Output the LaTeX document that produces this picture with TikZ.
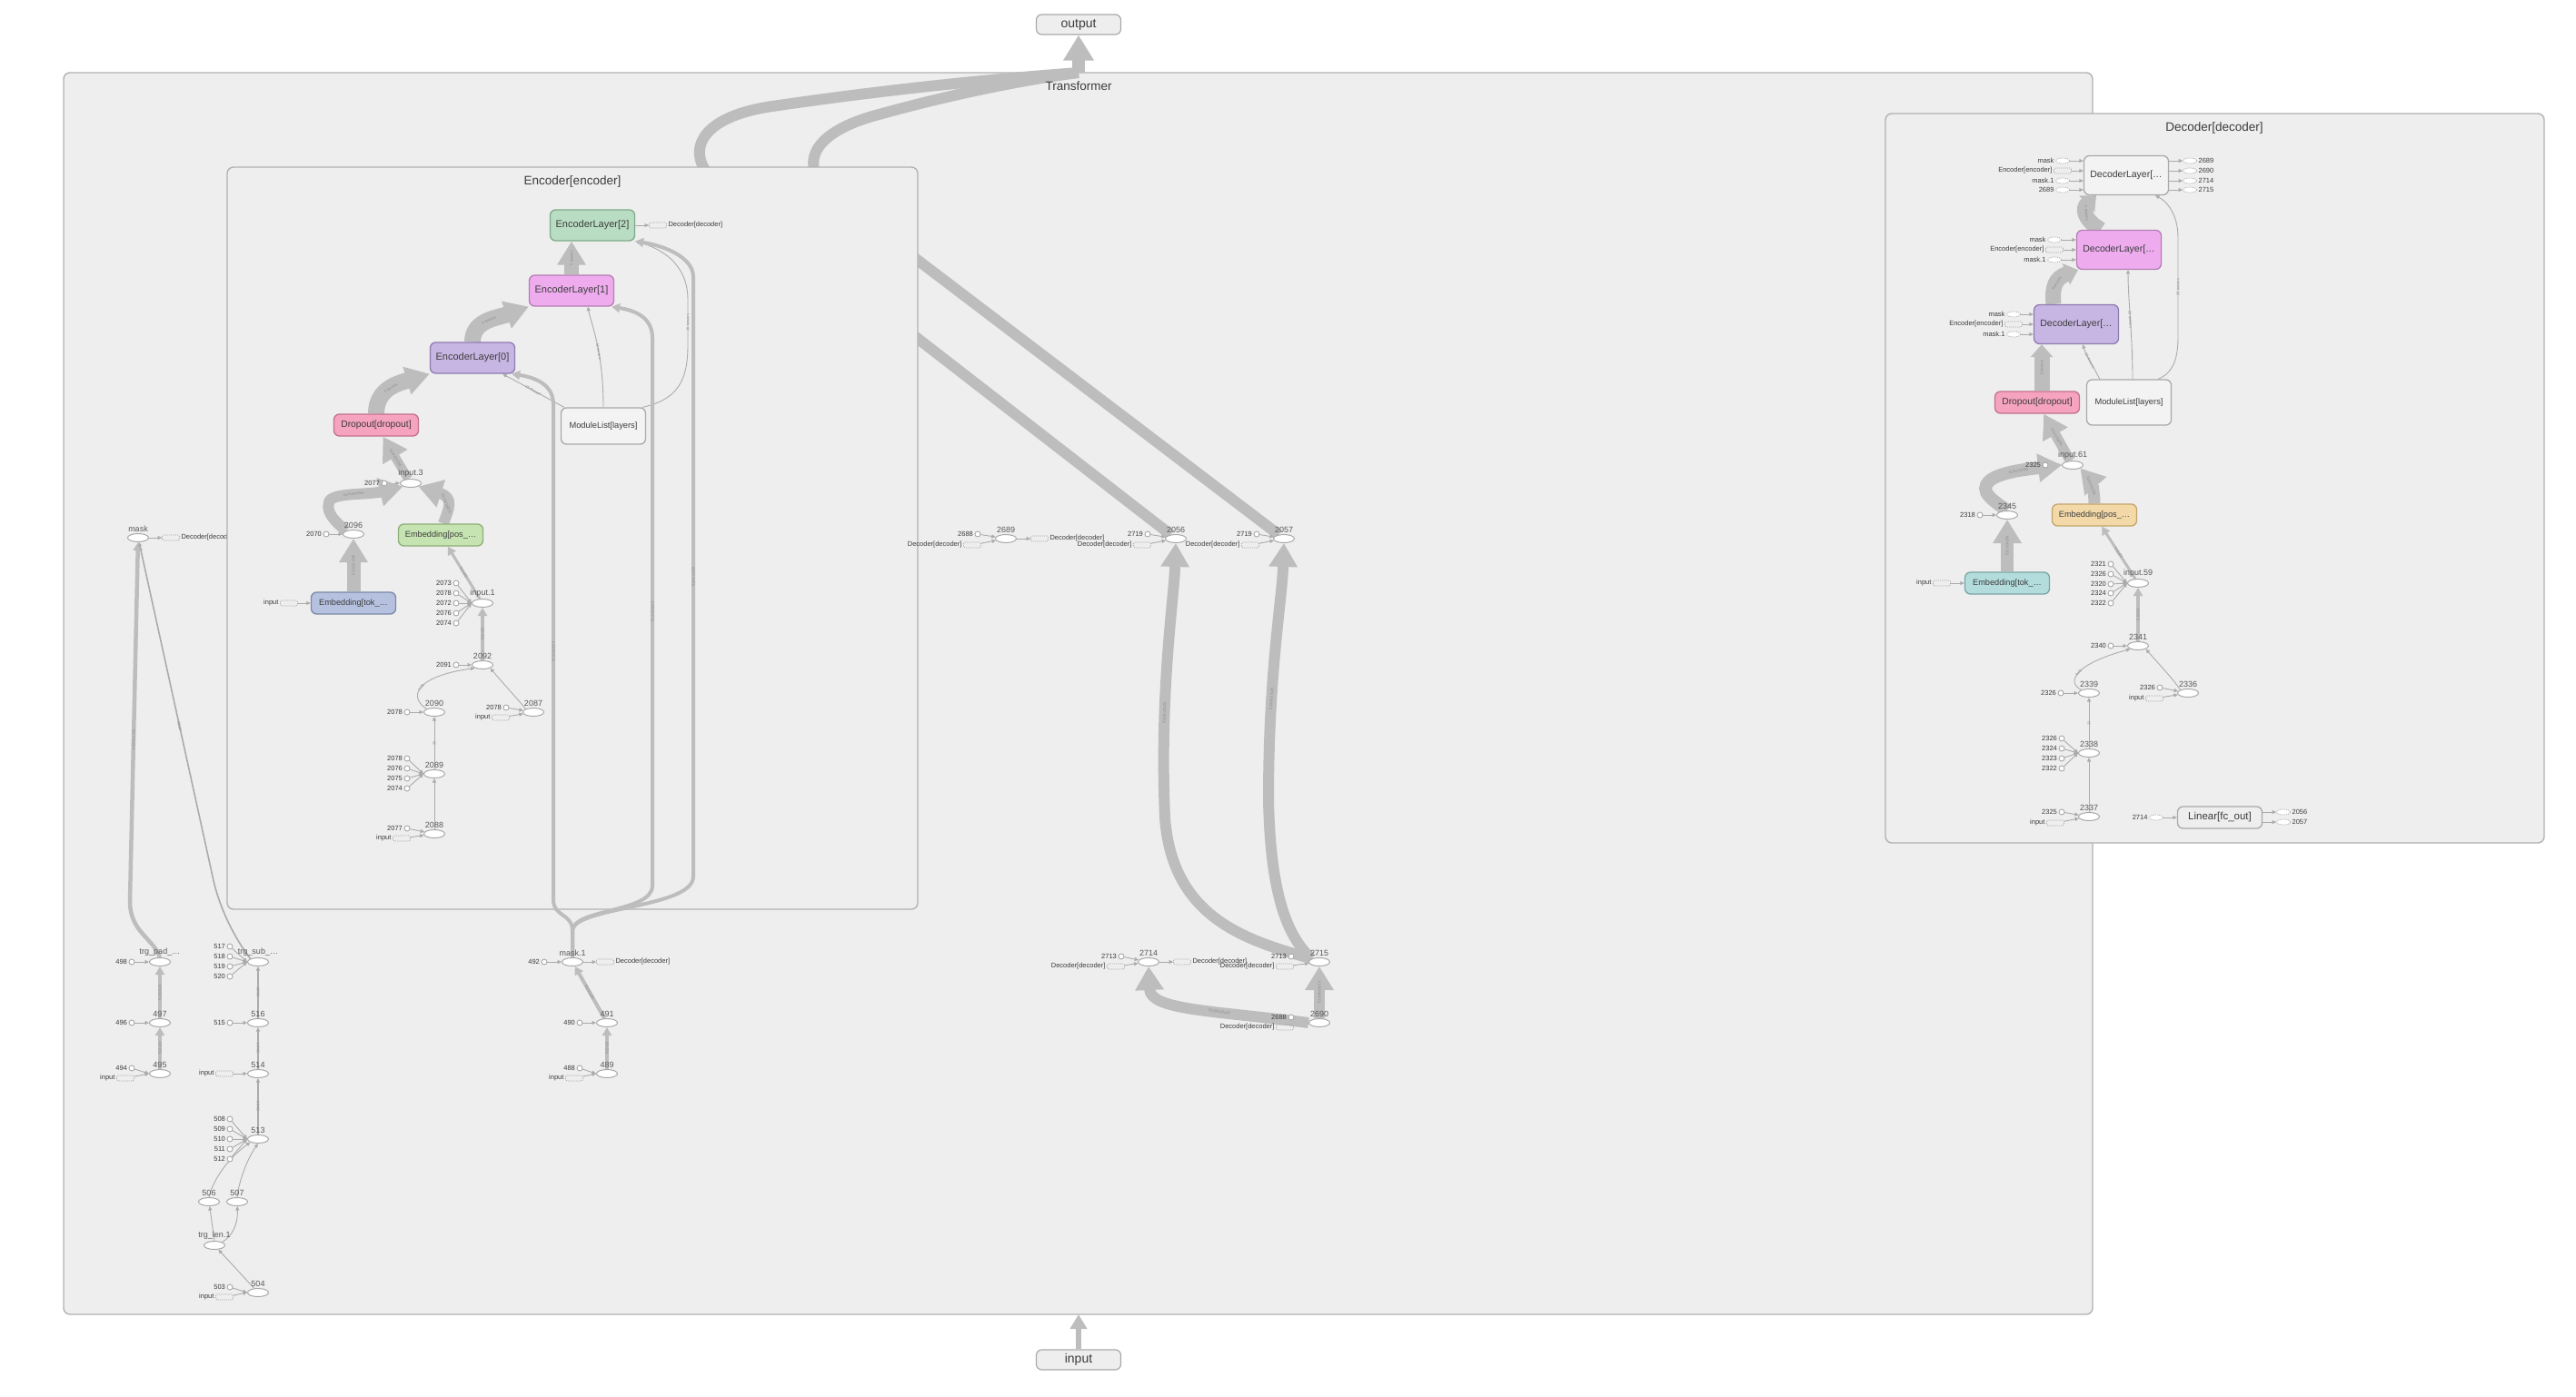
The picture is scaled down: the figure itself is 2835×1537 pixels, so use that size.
\documentclass[tikz,border=0pt]{standalone}
\usepackage{fontspec}
\setmainfont{Liberation Sans}
\usetikzlibrary{shapes.geometric,arrows.meta}

\definecolor{grpfill}{HTML}{EEEEEE}
\definecolor{grpline}{HTML}{B2B2B2}
\definecolor{txtdark}{HTML}{3C3C3C}
\definecolor{opline}{HTML}{A9A9A9}
\definecolor{edgec}{HTML}{BDBDBD}
\definecolor{wirec}{HTML}{ABABAB}
\definecolor{elabc}{HTML}{8C8C8C}
\definecolor{plainfill}{HTML}{F3F3F3}
\definecolor{encgreen}{HTML}{B9DDC3}
\definecolor{encgreenl}{HTML}{7EA98A}
\definecolor{lyrpink}{HTML}{EEACEE}
\definecolor{lyrpinkl}{HTML}{B47EB4}
\definecolor{lyrlila}{HTML}{C7B6E3}
\definecolor{lyrlilal}{HTML}{8E7CB1}
\definecolor{droppink}{HTML}{F5A3BE}
\definecolor{droppinkl}{HTML}{C2718C}
\definecolor{posgreen}{HTML}{C6E4B1}
\definecolor{posgreenl}{HTML}{8CAE77}
\definecolor{tokblue}{HTML}{B5C1DF}
\definecolor{tokbluel}{HTML}{7C88A7}
\definecolor{posorange}{HTML}{F3D9A8}
\definecolor{posorangel}{HTML}{C3A56A}
\definecolor{tokteal}{HTML}{B3DCDC}
\definecolor{toktealel}{HTML}{79A5A5}

\pgfdeclarelayer{lay0}
\pgfdeclarelayer{lay1}
\pgfdeclarelayer{lay2}
\pgfdeclarelayer{lay3}
\pgfsetlayers{lay0,lay1,lay2,lay3,main}

\tikzset{
  grp/.style={draw=grpline, fill=grpfill, line width=1.4pt, rounded corners=7pt},
  grptitle/.style={font=\fontsize{13.5}{14}\selectfont, text=txtdark},
  io/.style={draw=opline, fill=grpfill, line width=1.2pt, rounded corners=6pt,
    minimum width=93pt, minimum height=22pt, inner sep=1pt, text=txtdark,
    font=\fontsize{14}{14}\selectfont},
  mod/.style={rounded corners=6pt, line width=1.3pt, minimum width=93pt,
    minimum height=24pt, inner sep=1pt, text=txtdark,
    font=\fontsize{10.3}{11}\selectfont},
  lyr/.style={mod, minimum height=34pt, font=\fontsize{11}{12}\selectfont},
  plainmod/.style={mod, draw=opline, fill=plainfill},
  opn/.style={ellipse, draw=opline, fill=white, line width=1pt,
    minimum width=23pt, minimum height=9pt, inner sep=0pt},
  oplab/.style={font=\fontsize{9}{9}\selectfont, text=txtdark!85, inner sep=1pt},
  cst/.style={circle, draw=opline, fill=white, line width=0.9pt,
    minimum size=6pt, inner sep=0pt},
  cstlab/.style={font=\fontsize{7.5}{8}\selectfont, text=txtdark, inner sep=1.5pt},
  refbox/.style={draw=opline, dash pattern=on 1.2pt off 1pt, line width=0.7pt,
    minimum width=19pt, minimum height=6pt, inner sep=0pt, rounded corners=1.5pt},
  refell/.style={ellipse, draw=opline, dash pattern=on 1.2pt off 1pt, fill=white,
    line width=0.7pt, minimum width=15pt, minimum height=6pt, inner sep=0pt},
  wire/.style={draw=wirec, line width=0.9pt, -{Triangle[length=4.5pt,width=4pt]}},
  pipe/.style={draw=edgec, line width=#1, -{Triangle[length=9pt,width=10pt]}},
  pipe/.default=3.5pt,
  trunk/.style={draw=edgec, line width=#1, -{Triangle[length=26pt,width=30pt]}},
  trunk/.default=12pt,
  elab/.style={font=\fontsize{4}{4}\selectfont, text=elabc, sloped, inner sep=0.5pt},
}

\begin{document}
\begin{tikzpicture}[x=1pt,y=-1pt]
  \useasboundingbox (0,0) rectangle (2835,1537);
  % groups
  \begin{pgfonlayer}{lay0}
    \fill[white] (0,0) rectangle (2835,1537);
    \draw[grp] (70,80) rectangle (2303,1447);
  \end{pgfonlayer}
  \begin{pgfonlayer}{lay2}
    \draw[grp] (250,184) rectangle (1010,1001);
    \draw[grp] (2075,125) rectangle (2800,928);
  \end{pgfonlayer}
  \node[grptitle] (toptitle) at (1187,95) {Transformer};
  \node[grptitle] (enctitle) at (630,200) {Encoder[encoder]};
  \node[grptitle] (dectitle) at (2437,141) {Decoder[decoder]};
  \node[io] (output) at (1187,27) {output};
  \node[io] (input) at (1187,1497) {input};
  \coordinate (ttop) at (1187,80);
  \coordinate (tbot) at (1187,1447);

  % mask, left of the encoder
  \node[opn, label={[oplab]above:mask}] (mask) at (152,592) {};
  \node[opn, label={[oplab]above:trg\_pad\_\ldots}] (trgpad) at (176,1059) {};
  \node[opn, label={[oplab]above:497}] (n497) at (176,1126) {};
  \node[opn, label={[oplab]above:495}] (n495) at (176,1182) {};
  \node[cst, label={[cstlab]left:498}] (c498) at (145,1059) {};
  \node[cst, label={[cstlab]left:496}] (c496) at (145,1126) {};
  \node[cst, label={[cstlab]left:494}] (c494) at (145,1176) {};
  \node[refbox, label={[cstlab]left:input}] (r495) at (138,1187) {};
  \node[opn, label={[oplab]above:trg\_sub\_\ldots}] (trgsub) at (284,1059) {};
  \node[opn, label={[oplab]above:516}] (n516) at (284,1126) {};
  \node[opn, label={[oplab]above:514}] (n514) at (284,1182) {};
  \node[opn, label={[oplab]above:513}] (n513) at (284,1254) {};
  \node[opn, label={[oplab]above:506}] (n506) at (230,1323) {};
  \node[opn, label={[oplab]above:507}] (n507) at (261,1323) {};
  \node[opn, label={[oplab]above:trg\_len.1}] (trglen) at (236,1371) {};
  \node[opn, label={[oplab]above:504}] (n504) at (284,1423) {};
  \foreach \k/\y in {517/1042,518/1053,519/1064,520/1075,508/1232,509/1243,510/1254,511/1265,512/1276,515/1126,503/1417}
    \node[cst, label={[cstlab]left:\k}] (c\k) at (253,\y) {};
  \node[refbox, label={[cstlab]left:input}] (r514) at (247,1182) {};
  \node[refbox, label={[cstlab]left:input}] (r504) at (247,1428) {};

  % mask.1
  \node[opn, label={[oplab]above:mask.1}] (mask1) at (630,1059) {};
  \node[cst, label={[cstlab]left:492}] (c492) at (599,1059) {};
  \node[refbox, label={[cstlab]right:{Decoder[decoder]}}] (m1out) at (666,1059) {};
  \node[opn, label={[oplab]above:491}] (n491) at (668,1126) {};
  \node[cst, label={[cstlab]left:490}] (c490) at (638,1126) {};
  \node[opn, label={[oplab]above:489}] (n489) at (668,1182) {};
  \node[cst, label={[cstlab]left:488}] (c488) at (638,1176) {};
  \node[refbox, label={[cstlab]left:input}] (r489) at (632,1187) {};

  % middle column
  \node[opn, label={[oplab]above:2689}] (n2689) at (1107,593) {};
  \node[cst, label={[cstlab]left:2688}] (m2688a) at (1076,588) {};
  \node[refbox, label={[cstlab]left:{Decoder[decoder]}}] (r2689) at (1070,600) {};
  \node[refbox, label={[cstlab]right:{Decoder[decoder]}}] (o2689) at (1144,593) {};
  \node[opn, label={[oplab]above:2056}] (n2056) at (1294,593) {};
  \node[cst, label={[cstlab]left:2719}] (m2719a) at (1263,588) {};
  \node[refbox, label={[cstlab]left:{Decoder[decoder]}}] (r2056) at (1257,600) {};
  \node[opn, label={[oplab]above:2057}] (n2057) at (1413,593) {};
  \node[cst, label={[cstlab]left:2719}] (m2719b) at (1383,588) {};
  \node[refbox, label={[cstlab]left:{Decoder[decoder]}}] (r2057) at (1376,600) {};
  \node[opn, label={[oplab]above:2714}] (n2714) at (1264,1059) {};
  \node[cst, label={[cstlab]left:2713}] (m2713a) at (1234,1053) {};
  \node[refbox, label={[cstlab]left:{Decoder[decoder]}}] (r2714) at (1228,1064) {};
  \node[refbox, label={[cstlab]right:{Decoder[decoder]}}] (o2714) at (1301,1059) {};
  \node[opn, label={[oplab]above:2715}] (n2715) at (1452,1059) {};
  \node[cst, label={[cstlab]left:2713}] (m2713b) at (1421,1053) {};
  \node[refbox, label={[cstlab]left:{Decoder[decoder]}}] (r2715) at (1414,1064) {};
  \node[opn, label={[oplab]above:2690}] (n2690) at (1452,1126) {};
  \node[cst, label={[cstlab]left:2688}] (m2688b) at (1421,1120) {};
  \node[refbox, label={[cstlab]left:{Decoder[decoder]}}] (r2690) at (1414,1131) {};

  % encoder
  \node[lyr, fill=encgreen, draw=encgreenl] (enc2) at (652,248) {EncoderLayer[2]};
  \node[lyr, fill=lyrpink, draw=lyrpinkl] (enc1) at (629,320) {EncoderLayer[1]};
  \node[lyr, fill=lyrlila, draw=lyrlilal] (enc0) at (520,394) {EncoderLayer[0]};
  \node[mod, fill=droppink, draw=droppinkl] (encdrop) at (414,468) {Dropout[dropout]};
  \node[plainmod, minimum height=40pt, font=\fontsize{9.3}{10}\selectfont] (encml) at (664,469) {ModuleList[layers]};
  \node[mod, fill=posgreen, draw=posgreenl, font=\fontsize{9.2}{10}\selectfont] (encpos) at (485,589) {Embedding[pos\_\ldots};
  \node[mod, fill=tokblue, draw=tokbluel, font=\fontsize{9.2}{10}\selectfont] (enctok) at (389,664) {Embedding[tok\_\ldots};
  \node[refbox, label={[cstlab]right:{Decoder[decoder]}}] (e2out) at (724,248) {};
  \node[refbox, label={[cstlab]left:input}] (rtok) at (318,664) {};
  \node[opn, label={[oplab]above:input.3}] (in3) at (452,532) {};
  \node[cst, label={[cstlab]left:2077}] (e2077a) at (423,532) {};
  \node[opn, label={[oplab]above:2096}] (n2096) at (389,588) {};
  \node[cst, label={[cstlab]left:2070}] (e2070) at (359,588) {};
  \node[opn, label={[oplab]above:input.1}] (in1) at (531,664) {};
  \node[opn, label={[oplab]above:2092}] (n2092) at (531,732) {};
  \node[cst, label={[cstlab]left:2091}] (e2091) at (502,732) {};
  \node[opn, label={[oplab]above:2090}] (n2090) at (478,784) {};
  \node[cst, label={[cstlab]left:2078}] (e2078b) at (448,784) {};
  \node[opn, label={[oplab]above:2087}] (n2087) at (587,784) {};
  \node[cst, label={[cstlab]left:2078}] (e2078c) at (557,779) {};
  \node[refbox, label={[cstlab]left:input}] (r2087) at (551,790) {};
  \node[opn, label={[oplab]above:2089}] (n2089) at (478,852) {};
  \node[opn, label={[oplab]above:2088}] (n2088) at (478,918) {};
  \node[cst, label={[cstlab]left:2077}] (e2077b) at (448,912) {};
  \node[refbox, label={[cstlab]left:input}] (r2088) at (442,923) {};
  \foreach \k/\y in {2073/642,2078/653,2072/664,2076/675,2074/686}
    \node[cst, label={[cstlab]left:\k}] (i1c\y) at (502,\y) {};
  \foreach \k/\y in {2078/835,2076/846,2075/857,2074/868}
    \node[cst, label={[cstlab]left:\k}] (i89c\y) at (448,\y) {};

  % decoder
  \node[plainmod, minimum height=43pt, font=\fontsize{10.5}{11}\selectfont] (dlay2) at (2340,193) {DecoderLayer[\ldots};
  \node[mod, minimum height=43pt, fill=lyrpink, draw=lyrpinkl, font=\fontsize{10.5}{11}\selectfont] (dlay1) at (2332,275) {DecoderLayer[\ldots};
  \node[mod, minimum height=43pt, fill=lyrlila, draw=lyrlilal, font=\fontsize{10.5}{11}\selectfont] (dlay0) at (2285,357) {DecoderLayer[\ldots};
  \node[mod, fill=droppink, draw=droppinkl] (ddrop) at (2242,443) {Dropout[dropout]};
  \node[plainmod, minimum height=50pt, font=\fontsize{9.3}{10}\selectfont] (dml) at (2343,443) {ModuleList[layers]};
  \foreach \t/\y in {mask/177,mask.1/199,2689/209}
    \node[refell, label={[cstlab]left:\t}] (d2i\y) at (2270,\y) {};
  \node[refbox, label={[cstlab]left:{Encoder[encoder]}}] (d2i188) at (2270,188) {};
  \foreach \t/\y in {2689/177,2690/188,2714/199,2715/209}
    \node[refell, label={[cstlab]right:\t}] (d2o\y) at (2410,\y) {};
  \foreach \t/\y in {mask/264,mask.1/286}
    \node[refell, label={[cstlab]left:\t}] (d1i\y) at (2261,\y) {};
  \node[refbox, label={[cstlab]left:{Encoder[encoder]}}] (d1i275) at (2261,275) {};
  \foreach \t/\y in {mask/346,mask.1/368}
    \node[refell, label={[cstlab]left:\t}] (d0i\y) at (2216,\y) {};
  \node[refbox, label={[cstlab]left:{Encoder[encoder]}}] (d0i357) at (2216,357) {};
  \node[opn, label={[oplab]above:input.61}] (din61) at (2281,512) {};
  \node[cst, label={[cstlab]left:2325}] (d2325a) at (2251,512) {};
  \node[opn, label={[oplab]above:2345}] (n2345) at (2209,567) {};
  \node[cst, label={[cstlab]left:2318}] (d2318) at (2179,567) {};
  \node[mod, fill=posorange, draw=posorangel, font=\fontsize{9.2}{10}\selectfont] (dpos) at (2305,567) {Embedding[pos\_\ldots};
  \node[mod, fill=tokteal, draw=toktealel, font=\fontsize{9.2}{10}\selectfont] (dtok) at (2209,642) {Embedding[tok\_\ldots};
  \node[refbox, label={[cstlab]left:input}] (rdtok) at (2137,642) {};
  \node[opn, label={[oplab]above:input.59}] (din59) at (2353,642) {};
  \foreach \k/\y in {2321/621,2326/632,2320/643,2324/653,2322/664}
    \node[cst, label={[cstlab]left:\k}] (i59c\y) at (2323,\y) {};
  \node[opn, label={[oplab]above:2341}] (n2341) at (2353,711) {};
  \node[cst, label={[cstlab]left:2340}] (d2340) at (2323,711) {};
  \node[opn, label={[oplab]above:2339}] (n2339) at (2299,763) {};
  \node[cst, label={[cstlab]left:2326}] (d2326b) at (2268,763) {};
  \node[opn, label={[oplab]above:2336}] (n2336) at (2408,763) {};
  \node[cst, label={[cstlab]left:2326}] (d2326c) at (2377,757) {};
  \node[refbox, label={[cstlab]left:input}] (r2336) at (2371,769) {};
  \node[opn, label={[oplab]above:2338}] (n2338) at (2299,829) {};
  \foreach \k/\y in {2326/813,2324/824,2323/835,2322/846}
    \node[cst, label={[cstlab]left:\k}] (i38c\y) at (2269,\y) {};
  \node[opn, label={[oplab]above:2337}] (n2337) at (2299,899) {};
  \node[cst, label={[cstlab]left:2325}] (d2325b) at (2269,894) {};
  \node[refbox, label={[cstlab]left:input}] (r2337) at (2262,906) {};
  \node[mod, draw=opline, fill=grpfill, font=\fontsize{11.5}{12}\selectfont] (dlin) at (2443,900) {Linear[fc\_out]};
  \node[refell, label={[cstlab]left:2714}] (rlin) at (2373,900) {};
  \node[refell, label={[cstlab]right:2056}] (olin1) at (2513,894) {};
  \node[refell, label={[cstlab]right:2057}] (olin2) at (2513,905) {};

  % under the encoder box
  \begin{pgfonlayer}{lay1}
    \node[refbox, label={[cstlab]right:{Decoder[decoder]}}] (maskout) at (188,592) {};
    \draw[wire] (mask) -- (maskout);
    \draw[trunk=14pt, -{Triangle[length=28pt,width=32pt]}] (ttop) -- (output);
    \draw[pipe=6pt, -{Triangle[length=16pt,width=18pt]}] (input) -- (tbot);
    \draw[trunk, -] (n2056) -- (790,202) .. controls (755,175) and (760,130) .. (850,117)
      .. controls (1000,95) and (1120,85) .. (ttop);
    \draw[trunk, -] (n2057) -- (920,218) .. controls (880,188) and (885,150) .. (960,128)
      .. controls (1060,100) and (1140,86) .. (ttop);
  \end{pgfonlayer}

  \begin{pgfonlayer}{lay3}
    % left column
    \foreach \a/\b in {c498/trgpad,c496/n497,c494/n495.west,r495/n495.west,c515/n516,
        r514/n514,c503/n504.west,r504/n504.west,n504/trglen,trglen.north/n506,
        c492/mask1,mask1/m1out,c490/n491,c488/n489.west,r489/n489.west}
      \draw[wire] (\a) -- (\b);
    \foreach \k in {517,518,519,520}
      \draw[wire] (c\k) -- (trgsub.west);
    \foreach \k in {508,509,510,511,512}
      \draw[wire] (c\k) -- (n513.west);
    \draw[pipe=4pt] (n495) -- node[elab]{512x23} (n497);
    \draw[pipe=4pt] (n497) -- node[elab]{512x1x23} (trgpad);
    \draw[wire, line width=1.8pt] (n513) -- node[elab]{23x23} (n514);
    \draw[wire, line width=1.8pt] (n514) -- node[elab]{23x23} (n516);
    \draw[wire, line width=1.8pt] (n516) -- node[elab]{23x23} (trgsub);
    \draw[wire] (n506.north) .. controls (234,1300) and (250,1276) .. (n513.south west);
    \draw[wire] (n507.north) .. controls (263,1300) and (272,1276) .. (n513.south);
    \draw[wire] (trglen.north east) .. controls (254,1362) and (262,1350) .. (n507);
    \draw[pipe=4.5pt] (trgpad.north) .. controls (168,1032) and (143,1026) .. (143,992)
      -- node[elab, pos=0.45]{512x1x1x23} (mask);
    \draw[wire, line width=1.6pt] (trgsub.north west) .. controls (256,1030) and (240,995) .. (234,965)
      -- node[elab, pos=0.45]{23x23} (mask);
    \draw[pipe=4pt] (n489) -- node[elab]{512x25} (n491);
    \draw[pipe=4pt] (n491) -- node[elab]{512x1x25} (mask1);

    % middle column
    \foreach \a/\b in {m2688a/n2689,r2689/n2689,n2689/o2689,m2719a/n2056,r2056/n2056,
        m2719b/n2057,r2057/n2057,m2713a/n2714,r2714/n2714,n2714/o2714,
        m2713b/n2715,r2715/n2715,m2688b/n2690,r2690/n2690}
      \draw[wire] (\a) -- (\b);
    \draw[trunk] (n2690) -- node[elab]{512x8x23x25} (n2715);
    \draw[trunk] (n2690.west) .. controls (1330,1112) and (1266,1112) .. node[elab, pos=0.35]{512x8x23x25} (n2714.south);
    \draw[trunk] (n2715.north west) .. controls (1370,1035) and (1290,1010) .. (1282,900)
      .. controls (1276,760) and (1292,660) .. node[elab, pos=0.3]{512x8x23x25} (n2056.south);
    \draw[trunk] (n2715.north west) .. controls (1415,1030) and (1398,980) .. (1396,880)
      .. controls (1396,740) and (1411,660) .. node[elab, pos=0.3]{512x8x23x25} (n2057.south);

    % encoder
    \foreach \y in {642,653,664,675,686}
      \draw[wire] (i1c\y) -- (in1.west);
    \foreach \y in {835,846,857,868}
      \draw[wire] (i89c\y) -- (n2089.west);
    \foreach \a/\b in {rtok/enctok,e2070/n2096,e2077a/in3,e2091/n2092,e2078b/n2090,
        e2078c/n2087,r2087/n2087,e2077b/n2088,r2088/n2088,enc2/e2out,n2088/n2089}
      \draw[wire] (\a) -- (\b);
    \draw[wire] (n2089) -- node[elab]{25} (n2090);
    \draw[wire] (n2090.north west) .. controls (450,768) and (455,745) .. node[elab]{1x25} (n2092.south west);
    \draw[wire] (n2087.north west) .. controls (570,770) and (556,755) .. (n2092.south east);
    \draw[pipe=4pt] (n2092) -- node[elab]{512x25} (in1);
    \draw[pipe=3pt] (in1) -- node[elab]{512x25} (encpos);
    \draw[trunk=15pt] (enctok) -- node[elab]{512x25x256} (n2096);
    \draw[trunk] (n2096.north west) .. controls (372,576) and (358,566) .. (362,553)
      .. controls (364,542) and (405,545) .. node[elab]{512x25x256} (in3.south west);
    \draw[trunk] ([xshift=3pt]encpos.north) .. controls (494,560) and (500,548) .. node[elab]{512x25x256} (in3.south east);
    \draw[trunk=10pt] (in3) -- node[elab]{512x25x256} (encdrop);
    \draw[trunk=18pt] (encdrop.north) .. controls (414,428) and (438,422) .. node[elab]{5 tensors} (enc0.south west);
    \draw[trunk=18pt] (enc0.north) .. controls (520,352) and (548,350) .. node[elab]{5 tensors} (enc1.south west);
    \draw[trunk=16pt] (enc1.north) -- node[elab]{5 tensors} (enc1.north |- enc2.south);
    \draw[wire] ([xshift=4pt]encml.north west) -- node[elab]{16 tensors} ([xshift=-14pt]enc0.south east);
    \draw[wire] (encml.north) .. controls (664,385) and (650,355) .. node[elab, pos=0.4]{16 tensors} ([xshift=18pt]enc1.south);
    \draw[wire] ([xshift=-4pt]encml.north east) .. controls (745,440) and (757,420) .. (757,380)
      -- node[elab]{16 tensors} (757,330) .. controls (757,292) and (730,274) .. (enc2.south east);
    \draw[pipe=4pt] (mask1.north) -- (630,1025) .. controls (630,1005) and (609,1010) .. (609,990)
      -- node[elab]{512x1x1x25} (609,445) .. controls (609,425) and (592,416) .. ([xshift=-4pt]enc0.south east);
    \draw[pipe=4pt] (mask1.north) -- (630,1025) .. controls (630,1000) and (718,1005) .. (718,975)
      -- node[elab]{512x1x1x25} (718,372) .. controls (718,350) and (700,342) .. ([xshift=-3pt]enc1.south east);
    \draw[pipe=4pt] (mask1.north) -- (630,1025) .. controls (630,998) and (763,1000) .. (763,965)
      -- node[elab]{512x1x1x25} (763,305) .. controls (763,282) and (728,270) .. (enc2.south east);

    % decoder
    \foreach \y in {177,188,199,209}
      \draw[wire] (d2i\y) -- (d2i\y -| dlay2.west);
    \foreach \y in {177,188,199,209}
      \draw[wire] (d2o\y -| dlay2.east) -- (d2o\y);
    \foreach \y in {264,275,286}
      \draw[wire] (d1i\y) -- (d1i\y -| dlay1.west);
    \foreach \y in {346,357,368}
      \draw[wire] (d0i\y) -- (d0i\y -| dlay0.west);
    \coordinate (ddtop) at ([xshift=5pt]ddrop.north);
    \draw[trunk=17pt, -{Triangle[length=14pt,width=24pt]}] (ddtop) -- node[elab]{5 tensors} (ddtop |- dlay0.south);
    \draw[trunk=17pt, -{Triangle[length=14pt,width=24pt]}] ([xshift=-25pt]dlay0.north) .. controls (2258,316) and (2262,306) .. node[elab]{5 tensors} ([xshift=-45pt]dlay1.south);
    \draw[trunk=17pt, -{Triangle[length=14pt,width=24pt]}] ([xshift=-20pt]dlay1.north) .. controls (2292,241) and (2292,229) .. node[elab]{5 tensors} ([xshift=-33pt]dlay2.south);
    \draw[wire] ([xshift=15pt]dml.north west) .. controls (2303,402) and (2296,392) .. node[elab]{26 tensors} ([xshift=-40pt]dlay0.south east);
    \draw[wire] ([xshift=4pt]dml.north) .. controls (2347,370) and (2342,330) .. node[elab]{26 tensors} ([xshift=10pt]dlay1.south);
    \draw[wire] ([xshift=-15pt]dml.north east) .. controls (2392,410) and (2397,395) .. (2397,370)
      -- node[elab]{26 tensors} (2397,262) .. controls (2397,236) and (2385,222) .. ([xshift=32pt]dlay2.south);
    \foreach \y in {621,632,643,653,664}
      \draw[wire] (i59c\y) -- (din59.west);
    \foreach \y in {813,824,835,846}
      \draw[wire] (i38c\y) -- (n2338.west);
    \foreach \a/\b in {d2325a/din61,d2318/n2345,rdtok/dtok,d2340/n2341,d2326b/n2339,
        d2326c/n2336,r2336/n2336,d2325b/n2337,r2337/n2337,rlin/dlin,n2337/n2338}
      \draw[wire] (\a) -- (\b);
    \draw[wire] (olin1 -| dlin.east) -- (olin1);
    \draw[wire] (olin2 -| dlin.east) -- (olin2);
    \draw[wire] (n2338) -- node[elab]{23} (n2339);
    \draw[wire] (n2339.north west) .. controls (2275,752) and (2280,732) .. node[elab]{1x23} (n2341.south west);
    \draw[wire] (n2336.north west) .. controls (2392,748) and (2375,730) .. (n2341.south east);
    \draw[pipe=4pt] (n2341) -- node[elab]{512x23} (din59);
    \draw[pipe=3pt] (din59) -- node[elab]{512x23} (dpos);
    \draw[trunk=14pt] (dtok) -- node[elab]{512x23x256} (n2345);
    \draw[trunk=14pt] (n2345.north) .. controls (2195,552) and (2176,541) .. (2190,529)
      .. controls (2202,519) and (2236,516) .. node[elab]{512x23x256} (din61.west);
    \draw[trunk=13pt] (dpos.north) .. controls (2305,541) and (2301,529) .. node[elab]{512x23x256} (din61.south east);
    \draw[trunk=11pt] (din61) -- node[elab]{512x23x256} (ddrop);
  \end{pgfonlayer}
\end{tikzpicture}
\end{document}
